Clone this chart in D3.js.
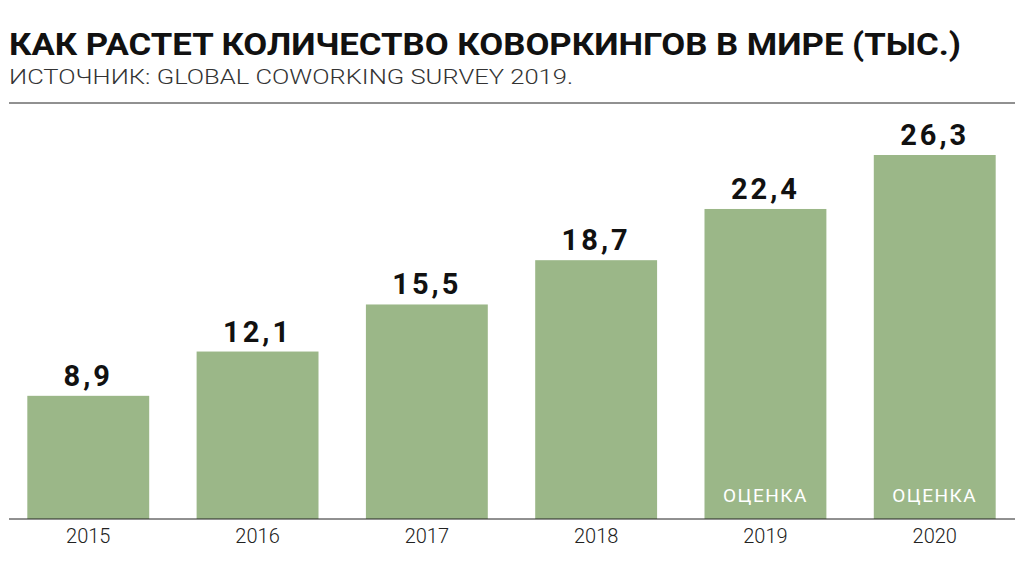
<!DOCTYPE html>
<html><head><meta charset="utf-8">
<script src="https://cdn.jsdelivr.net/npm/d3@7"></script>
<style>body{margin:0;background:#fff}</style></head>
<body><svg id="c" width="1024" height="568"></svg>
<script>
const years=["2015","2016","2017","2018","2019","2020"];
const values=[8.9,12.1,15.5,18.7,22.4,26.3];
const labels=["8,9","12,1","15,5","18,7","22,4","26,3"];
const notes=["","","","","ОЦЕНКА","ОЦЕНКА"];
const svg=d3.select("#c");
const font="Roboto, 'Liberation Sans', sans-serif";
svg.append("text").attr("x",9).attr("y",55).attr("font-family",font).attr("font-weight",700).attr("font-size",31).attr("textLength",952).attr("lengthAdjust","spacingAndGlyphs").attr("fill","#111").text("КАК РАСТЕТ КОЛИЧЕСТВО КОВОРКИНГОВ В МИРЕ (ТЫС.)");
svg.append("text").attr("x",9).attr("y",84).attr("font-family",font).attr("font-weight",300).attr("font-size",21).attr("textLength",564).attr("lengthAdjust","spacingAndGlyphs").attr("fill","#333").text("ИСТОЧНИК: GLOBAL COWORKING SURVEY 2019.");
svg.append("line").attr("x1",9).attr("x2",1015).attr("y1",103).attr("y2",103).attr("stroke","#222").attr("stroke-width",1);
const x=d3.scaleBand().domain(years).range([7,1016]).paddingInner(0.28).paddingOuter(0.12);
const y=d3.scaleLinear().domain([0,26.3]).range([519,155]);
const g=svg.selectAll("g.b").data(years).join("g");
g.append("rect").attr("x",d=>x(d)).attr("width",x.bandwidth()).attr("y",(d,i)=>y(values[i])).attr("height",(d,i)=>y(0)-y(values[i])).attr("fill","#9bb788");
g.append("text").attr("x",d=>x(d)+x.bandwidth()/2).attr("y",(d,i)=>y(values[i])-10).attr("text-anchor","middle").attr("font-family",font).attr("font-weight",700).attr("font-size",29).attr("letter-spacing",3).attr("fill","#111").text((d,i)=>labels[i]);
g.append("text").attr("x",d=>x(d)+x.bandwidth()/2).attr("y",502).attr("text-anchor","middle").attr("font-family",font).attr("font-size",19).attr("letter-spacing",1.5).attr("fill","#fff").text((d,i)=>notes[i]);
const ax=svg.append("g").attr("transform","translate(0,519)").call(d3.axisBottom(x).tickSize(0).tickPadding(10));
ax.select(".domain").attr("d","M9,0H1015").attr("stroke","#222");
ax.selectAll("text").attr("font-family",font).attr("font-size",20).attr("font-weight",300).attr("fill","#222");
</script></body></html>
